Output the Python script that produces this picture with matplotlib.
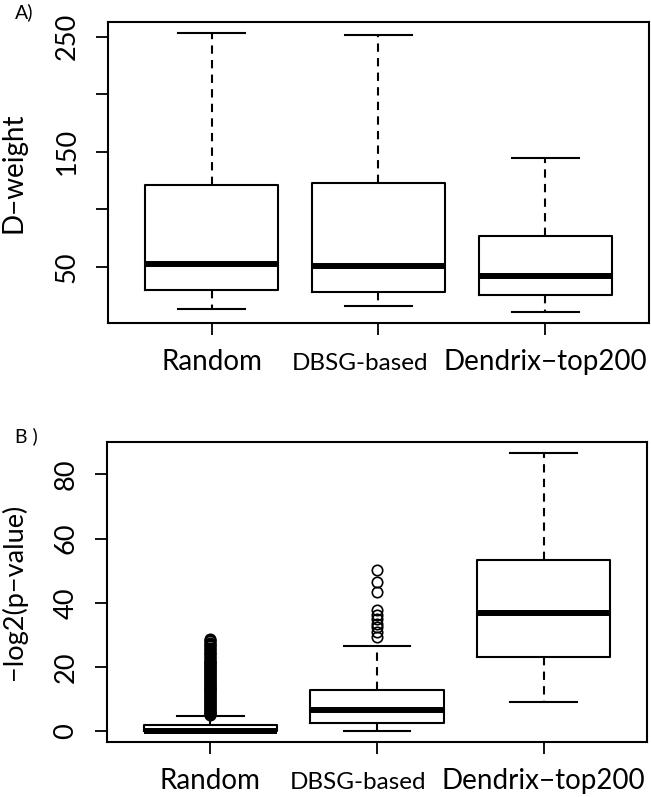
import matplotlib.pyplot as plt
from matplotlib.transforms import offset_copy

plt.rcParams['font.family'] = ['Lato', 'DejaVu Sans']

# --- DATA ---
groups = ["Random", "DBSG-based", "Dendrix\u2212top200"]
group_fontsize = [20, 17.5, 20]
group_dx = [0, -18.6, 0]  # pixels; DBSG label sits left of its tick

# A) D-weight
a_whislo = [13.8, 16.4, 11.0]
a_q1 = [30.4, 28.0, 25.6]
a_med = [53.0, 51.0, 42.5]
a_q3 = [121.0, 123.0, 76.7]
a_whishi = [253.0, 251.5, 145.0]
a_yticks = [50, 100, 150, 200, 250]
a_yticklabels = ["50", "", "150", "", "250"]

# B) -log2(p-value)
b_whislo = [0.0, 0.0, 9.1]
b_q1 = [0.0, 2.7, 23.1]
b_med = [0.0, 6.5, 36.7]
b_q3 = [1.9, 12.8, 53.3]
b_whishi = [4.8, 26.6, 86.7]
b_random_out = [4.9, 5.2, 5.5, 5.8, 6.1, 6.4, 6.7, 7.0, 7.3, 7.6, 7.9, 8.2, 8.5,
                8.8, 9.1, 9.4, 9.7, 10.0, 10.3, 10.6, 10.9, 11.2, 11.5, 11.8,
                12.1, 12.4, 12.7, 13.0, 13.3, 13.6, 13.9, 14.2, 14.5, 14.8,
                15.1, 15.4, 15.7, 16.0, 16.3, 16.6, 16.9, 17.2, 17.5, 17.8,
                18.1, 18.4, 18.7, 19.0, 19.3, 19.6, 19.9, 20.2, 20.5, 20.8,
                21.1, 21.4, 21.7, 22.0, 22.4, 22.8, 23.2, 23.6, 24.0, 24.4,
                24.8, 25.2, 25.6, 26.0, 26.4, 26.8, 27.2, 27.6, 28.0, 28.4, 28.8]
b_dbsg_out = [29.4, 31.0, 32.3, 33.5, 35.0, 36.3, 37.7, 43.2, 46.5, 50.2]
b_dendrix_out = []
b_yticks = [0, 20, 40, 60, 80]
b_yticklabels = ["0", "20", "40", "60", "80"]


def make_stats(whislo, q1, med, q3, whishi, fliers):
    return [dict(whislo=whislo[i], q1=q1[i], med=med[i], q3=q3[i],
                 whishi=whishi[i], fliers=fliers[i]) for i in range(len(groups))]


def r_boxplot(ax, stats, yticks, yticklabels, ylabel):
    pos = [1, 2, 3]
    ax.bxp(stats, positions=pos, widths=0.8, patch_artist=False,
           boxprops=dict(color='black', lw=1.5),
           medianprops=dict(color='black', lw=4.3, solid_capstyle='butt'),
           whiskerprops=dict(color='black', lw=1.5, linestyle=(0, (4, 3))),
           capprops=dict(color='black', lw=1.5),
           flierprops=dict(marker='o', markerfacecolor='none',
                           markeredgecolor='black', markersize=7.5,
                           markeredgewidth=1.2))
    # R style limits: data range extended by 4%
    vals = []
    for s in stats:
        vals += [s['whislo'], s['whishi']] + list(s['fliers'])
    lo, hi = min(vals), max(vals)
    ext = (hi - lo) * 0.04
    ax.set_ylim(lo - ext, hi + ext)
    ax.set_xlim(0.5 - 0.12, 3.5 + 0.12)

    ax.set_yticks(yticks)
    ax.set_yticklabels(yticklabels, rotation=90, va='center', fontsize=19.5)
    ax.set_xticks(pos)
    ax.set_xticklabels([])
    # group labels share one baseline below the axis
    for p, name, fs, dx in zip(pos, groups, group_fontsize, group_dx):
        tr = offset_copy(ax.get_xaxis_transform(), fig=ax.figure,
                         x=dx, y=-46.5, units='dots')
        ax.text(p, 0, name, transform=tr, ha='center', va='baseline',
                fontsize=fs)
    ax.tick_params(axis='both', direction='out', length=8.5, width=1.3)
    ax.tick_params(axis='y', pad=12)
    for sp in ax.spines.values():
        sp.set_linewidth(1.5)
    ax.set_ylabel(ylabel, fontsize=20)


fig = plt.figure(figsize=(6.51, 7.97), dpi=100)
ax_a = fig.add_axes([0.1659, 0.5947, 0.831, 0.3777])
ax_b = fig.add_axes([0.1644, 0.0686, 0.8295, 0.3772])

stats_a = make_stats(a_whislo, a_q1, a_med, a_q3, a_whishi, [[], [], []])
r_boxplot(ax_a, stats_a, a_yticks, a_yticklabels, "D\u2212weight")
ax_a.yaxis.set_label_coords(-0.151, 0.5)

stats_b = make_stats(b_whislo, b_q1, b_med, b_q3, b_whishi,
                     [b_random_out, b_dbsg_out, b_dendrix_out])
r_boxplot(ax_b, stats_b, b_yticks, b_yticklabels, "\u2212log2(p\u2212value)")
ax_b.yaxis.set_label_coords(-0.148, 0.5)
ax_b.yaxis.label.set_fontsize(19.5)

fig.text(15 / 651, 1 - 18 / 797, "A)", fontsize=14, va='baseline')
fig.text(15 / 651, 1 - 442 / 797, "B )", fontsize=14, va='baseline')

fig.savefig("out.png", dpi=100)
